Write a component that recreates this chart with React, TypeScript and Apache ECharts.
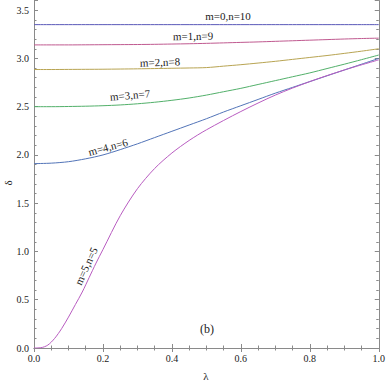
import React, { useEffect, useRef } from 'react';
import * as echarts from 'echarts';

const lambda = [0, 0.05, 0.1, 0.15, 0.2, 0.25, 0.3, 0.35, 0.4, 0.45, 0.5, 0.55, 0.6, 0.65, 0.7, 0.75, 0.8, 0.85, 0.9, 0.95, 1.0];
const deltaM0 = [3.35, 3.35, 3.35, 3.35, 3.35, 3.35, 3.35, 3.35, 3.35, 3.35, 3.35, 3.35, 3.35, 3.35, 3.35, 3.35, 3.35, 3.35, 3.35, 3.35, 3.35];
const deltaM1 = [3.14, 3.14, 3.14, 3.141, 3.142, 3.143, 3.144, 3.146, 3.149, 3.152, 3.156, 3.161, 3.166, 3.171, 3.177, 3.183, 3.189, 3.195, 3.201, 3.206, 3.21];
const deltaM2 = [2.885, 2.885, 2.886, 2.887, 2.888, 2.89, 2.892, 2.895, 2.898, 2.901, 2.905, 2.92, 2.935, 2.952, 2.97, 2.99, 3.01, 3.03, 3.052, 3.075, 3.1];
const deltaM3 = [2.5, 2.5, 2.502, 2.505, 2.51, 2.518, 2.53, 2.546, 2.566, 2.59, 2.62, 2.655, 2.69, 2.73, 2.77, 2.81, 2.85, 2.895, 2.94, 2.987, 3.035];
const deltaM4 = [1.91, 1.915, 1.93, 1.96, 2.0, 2.055, 2.115, 2.18, 2.245, 2.31, 2.375, 2.445, 2.51, 2.575, 2.64, 2.7, 2.76, 2.82, 2.88, 2.94, 3.0];
const lambdaM5 = [0, 0.02, 0.04, 0.06, 0.08, 0.1, 0.12, 0.14, 0.16, 0.18, 0.2, 0.25, 0.3, 0.35, 0.4, 0.45, 0.5, 0.6, 0.7, 0.8, 0.9, 1.0];
const deltaM5 = [0, 0.003, 0.03, 0.1, 0.2, 0.32, 0.45, 0.58, 0.73, 0.88, 1.02, 1.37, 1.65, 1.86, 2.02, 2.15, 2.26, 2.45, 2.62, 2.76, 2.88, 2.985];

const seriesNames = ['m=0,n=10', 'm=1,n=9', 'm=2,n=8', 'm=3,n=7', 'm=4,n=6', 'm=5,n=5'];
const seriesColors = ['#5a58b8', '#c05a90', '#b8a452', '#52b06a', '#5274b8', '#b85cc0'];
const panelTag = '(b)';
const xName = 'λ';
const yName = 'δ';

const FONT = "'Times New Roman', 'Liberation Serif', 'DejaVu Serif', serif";

export default function App() {
  const ref = useRef<HTMLDivElement>(null);
  useEffect(() => {
    if (!ref.current) return;
    const chart = echarts.init(ref.current, undefined, { renderer: 'svg' });
    const zip = (xs: number[], ys: number[]) => xs.map((x, i) => [x, ys[i]]);
    const dataSets = [
      zip(lambda, deltaM0),
      zip(lambda, deltaM1),
      zip(lambda, deltaM2),
      zip(lambda, deltaM3),
      zip(lambda, deltaM4),
      zip(lambdaM5, deltaM5),
    ];
    const axisColor = '#8a8a8a';
    const labelStyle = { fontFamily: FONT, fontSize: 10, color: '#222' };
    const fmt = (v: number) => (Math.abs(v * 2 - Math.round(v * 2)) < 1e-6 ? v.toFixed(1) : '');
    const fmtX = (v: number) => (Math.abs(v * 5 - Math.round(v * 5)) < 1e-6 ? v.toFixed(1) : '');
    const labelPos: [number, number, number][] = [
      [228, 16, 0],
      [193, 36, 1],
      [160, 62, 2],
      [130, 95, 5],
      [108, 147, 15],
      [86, 266, 65],
    ];
    chart.setOption({
      animation: false,
      backgroundColor: '#fff',
      grid: { left: 34, right: 6, top: 0.5, bottom: 33 },
      xAxis: [
        {
          type: 'value', position: 'bottom', min: 0, max: 1, interval: 0.2,
          axisLine: { lineStyle: { color: axisColor, width: 1 } },
          axisTick: { inside: true, length: 4, lineStyle: { color: axisColor } },
          minorTick: { show: true, splitNumber: 4, length: 2.5, lineStyle: { color: axisColor } },
          splitLine: { show: false },
          axisLabel: { ...labelStyle, margin: 5, formatter: fmtX },
        },
        {
          type: 'value', position: 'top', min: 0, max: 1, interval: 0.2,
          axisLine: { lineStyle: { color: axisColor, width: 1 } },
          axisTick: { inside: true, length: 4, lineStyle: { color: axisColor } },
          minorTick: { show: true, splitNumber: 4, length: 2.5, lineStyle: { color: axisColor } },
          splitLine: { show: false },
          axisLabel: { show: false },
        },
      ],
      yAxis: [
        {
          type: 'value', position: 'left', min: 0, max: 3.6, interval: 0.5,
          axisLine: { show: true, lineStyle: { color: axisColor, width: 1 } },
          axisTick: { show: true, inside: true, length: 4, lineStyle: { color: axisColor } },
          splitLine: { show: false },
          axisLabel: { ...labelStyle, margin: 5, formatter: fmt },
        },
        {
          type: 'value', position: 'left', min: 0, max: 3.6, interval: 0.1,
          axisLine: { show: false },
          axisTick: { show: true, inside: true, length: 2.5, lineStyle: { color: axisColor } },
          splitLine: { show: false },
          axisLabel: { show: false },
        },
        {
          type: 'value', position: 'right', min: 0, max: 3.6, interval: 0.5,
          axisLine: { show: true, lineStyle: { color: axisColor, width: 1 } },
          axisTick: { show: true, inside: true, length: 4, lineStyle: { color: axisColor } },
          splitLine: { show: false },
          axisLabel: { show: false },
        },
        {
          type: 'value', position: 'right', min: 0, max: 3.6, interval: 0.1,
          axisLine: { show: false },
          axisTick: { show: true, inside: true, length: 2.5, lineStyle: { color: axisColor } },
          splitLine: { show: false },
          axisLabel: { show: false },
        },
      ],
      series: dataSets.map((d, i) => ({
        type: 'line',
        name: seriesNames[i],
        xAxisIndex: 0,
        yAxisIndex: 0,
        data: d,
        showSymbol: false,
        smooth: 0.3,
        lineStyle: { color: seriesColors[i], width: 1 },
        itemStyle: { color: seriesColors[i] },
      })),
      graphic: [
        ...seriesNames.map((name, i) => ({
          type: 'text',
          x: labelPos[i][0],
          y: labelPos[i][1],
          rotation: (labelPos[i][2] * Math.PI) / 180,
          style: {
            text: name, fontFamily: FONT, fontSize: 11, fill: '#222',
            align: 'center', verticalAlign: 'middle',
          },
        })),
        {
          type: 'text', x: 207, y: 329,
          style: { text: panelTag, fontFamily: FONT, fontSize: 12, fill: '#222', align: 'center', verticalAlign: 'middle' },
        },
        {
          type: 'text', x: 206, y: 376,
          style: { text: xName, fontFamily: FONT, fontSize: 11, fill: '#222', align: 'center', verticalAlign: 'middle' },
        },
        {
          type: 'text', x: 8, y: 183, rotation: Math.PI / 2,
          style: { text: yName, fontFamily: FONT, fontSize: 11, fill: '#222', align: 'center', verticalAlign: 'middle' },
        },
      ],
    });
    return () => chart.dispose();
  }, []);
  return (
    <div
      ref={ref}
      style={{ position: 'absolute', left: 0, top: 0, width: 388, height: 381 }}
    />
  );
}
